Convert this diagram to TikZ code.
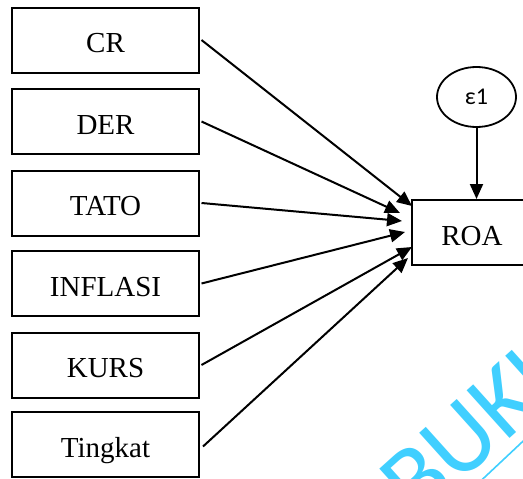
\documentclass[tikz,border=0pt]{standalone}
\usepackage{fontspec}
\setmainfont{Liberation Serif}
\newfontfamily\epsfont{Carlito}
\usetikzlibrary{arrows.meta,shapes.geometric}
\definecolor{wmark}{RGB}{64,207,255}
\begin{document}
\begin{tikzpicture}[x=1pt,y=-1pt,
  box/.style={draw,line width=2pt,minimum width=187pt,minimum height=65pt,inner sep=0pt,
    font=\fontsize{29}{30}\selectfont,text height=25pt,text depth=0pt},
  link/.style={line width=2pt,-{Triangle[length=15pt,width=13pt]}},
]
\useasboundingbox (0,0) rectangle (523,479);
% watermark
\node[text=wmark,rotate=42,font=\epsfont\fontsize{100}{105}\selectfont,inner sep=0pt] (wm) at (483,420) {BUKU};
\draw[wmark,line width=1.6pt] (470,491) -- (536,429);
% boxes
\node[box] (cr) at (105.5,40) {CR};
\node[box] (der) at (105.5,121.5) {DER};
\node[box] (tato) at (105.5,203) {TATO};
\node[box] (inf) at (105.5,283.5) {INFLASI};
\node[box] (kurs) at (105.5,365) {KURS};
\node[box] (ting) at (105.5,444.5) {Tingkat};
\node[box,minimum width=120pt] (roa) at (472,232.5) {ROA};
\node[draw,ellipse,line width=1.8pt,minimum width=79pt,minimum height=60pt,inner sep=0pt,
  font=\epsfont\fontsize{24}{26}\selectfont] (e1) at (476.5,97) {ε1};
% arrow tips
\coordinate (t1) at (412,206);
\coordinate (t2) at (400,213);
\coordinate (t3) at (402,221);
\coordinate (t4) at (405,232);
\coordinate (t5) at (412,247);
\coordinate (t6) at (408,258);
\draw[link] ([xshift=1.5pt]cr.east) -- (t1);
\draw[link] ([xshift=1.5pt]der.east) -- (t2);
\draw[link] ([xshift=1.5pt]tato.east) -- (t3);
\draw[link] ([xshift=1.5pt]inf.east) -- (t4);
\draw[link] ([xshift=1.5pt]kurs.east) -- (t5);
\draw[link] ([xshift=3pt,yshift=-2pt]ting.east) -- (t6);
\draw[link] (e1.south) -- (e1.south |- roa.north);
\end{tikzpicture}
\end{document}
